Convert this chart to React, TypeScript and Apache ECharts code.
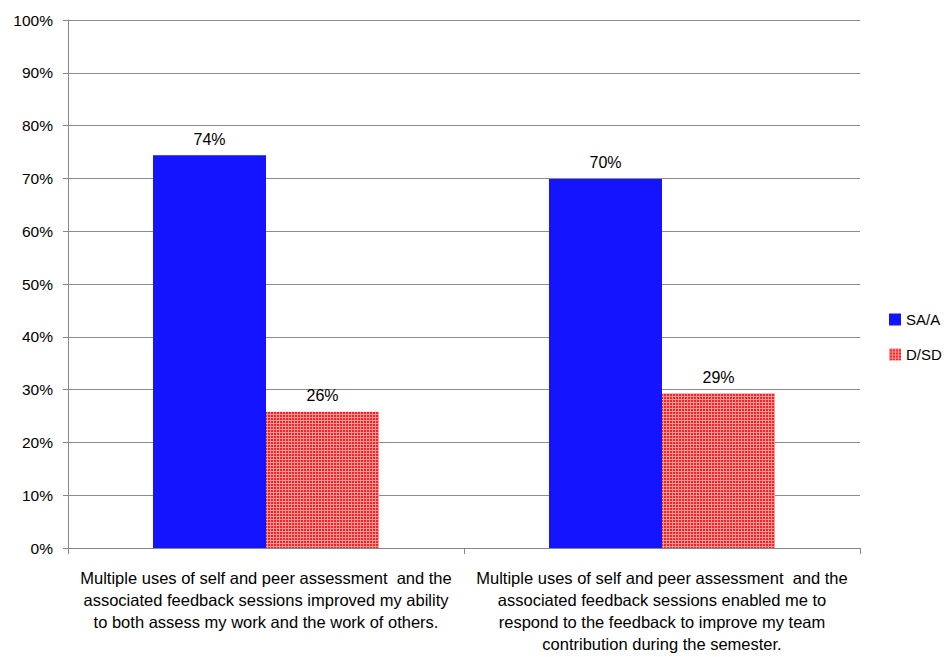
import React, { useEffect, useRef } from "react";
import * as echarts from "echarts";

const categories = [
  "Multiple uses of self and peer assessment  and the\nassociated feedback sessions improved my ability\nto both assess my work and the work of others.",
  "Multiple uses of self and peer assessment  and the\nassociated feedback sessions enabled me to\nrespond to the feedback to improve my team\ncontribution during the semester.",
];
const seriesNames = ["SA/A", "D/SD"];
const saValues = [74.4, 69.9];
const dsdValues = [25.8, 29.3];
const yTicks = [0, 10, 20, 30, 40, 50, 60, 70, 80, 90, 100];

function makePattern(): HTMLCanvasElement {
  const c = document.createElement("canvas");
  c.width = 3;
  c.height = 3;
  const ctx = c.getContext("2d")!;
  ctx.fillStyle = "#ff1f1f";
  ctx.fillRect(0, 0, 3, 3);
  ctx.fillStyle = "#ff9a9a";
  ctx.fillRect(0, 0, 3, 1);
  ctx.fillRect(0, 0, 1, 3);
  return c;
}

export default function App() {
  const ref = useRef<HTMLDivElement>(null);
  useEffect(() => {
    if (!ref.current) return;
    const chart = echarts.init(ref.current, undefined, { renderer: "svg" });
    const pattern = makePattern();
    const font = "'Liberation Sans', Arial, sans-serif";
    const labelFmt = (p: any) => Math.round(p.value) + "%";
    chart.setOption({
      animation: false,
      backgroundColor: "#ffffff",
      textStyle: { fontFamily: font },
      grid: { left: 68, right: 88, top: 20, bottom: 109, containLabel: false },
      legend: {
        orient: "vertical",
        left: 884,
        top: 307,
        itemWidth: 12,
        itemHeight: 12,
        itemGap: 20,
        icon: "rect",
        textStyle: { fontSize: 15, color: "#000", fontFamily: font },
        data: seriesNames,
      },
      xAxis: {
        type: "category",
        data: categories,
        axisLine: { lineStyle: { color: "#888888", width: 1 } },
        axisTick: { show: true, alignWithLabel: false, length: 6, lineStyle: { color: "#888888" } },
        axisLabel: {
          color: "#000",
          fontSize: 16.5,
          lineHeight: 22,
          margin: 19,
          interval: 0,
          fontFamily: font,
        },
      },
      yAxis: {
        type: "value",
        min: 0,
        max: 100,
        interval: 10,
        axisLine: { show: true, lineStyle: { color: "#888888", width: 1 } },
        axisTick: { show: true, length: 5, lineStyle: { color: "#888888" } },
        splitLine: { show: true, lineStyle: { color: "#8c8c8c", width: 1 } },
        axisLabel: {
          color: "#000",
          fontSize: 15.5,
          margin: 15,
          fontFamily: font,
          formatter: (v: number) => (yTicks.includes(v) ? v + "%" : ""),
        },
      },
      series: [
        {
          name: seriesNames[0],
          type: "bar",
          data: saValues,
          barWidth: 113,
          barGap: "0%",
          itemStyle: { color: "#1414ff" },
          label: {
            show: true,
            position: "top",
            distance: 8,
            color: "#000",
            fontSize: 16,
            fontFamily: font,
            formatter: labelFmt,
          },
        },
        {
          name: seriesNames[1],
          type: "bar",
          data: dsdValues,
          barWidth: 113,
          barGap: "0%",
          itemStyle: { color: { image: pattern, repeat: "repeat" } },
          label: {
            show: true,
            position: "top",
            distance: 8,
            color: "#000",
            fontSize: 16,
            fontFamily: font,
            formatter: labelFmt,
          },
        },
      ],
    });
    return () => chart.dispose();
  }, []);
  return (
    <div
      ref={ref}
      style={{ position: "fixed", left: 0, top: 0, width: 948, height: 657 }}
    />
  );
}
